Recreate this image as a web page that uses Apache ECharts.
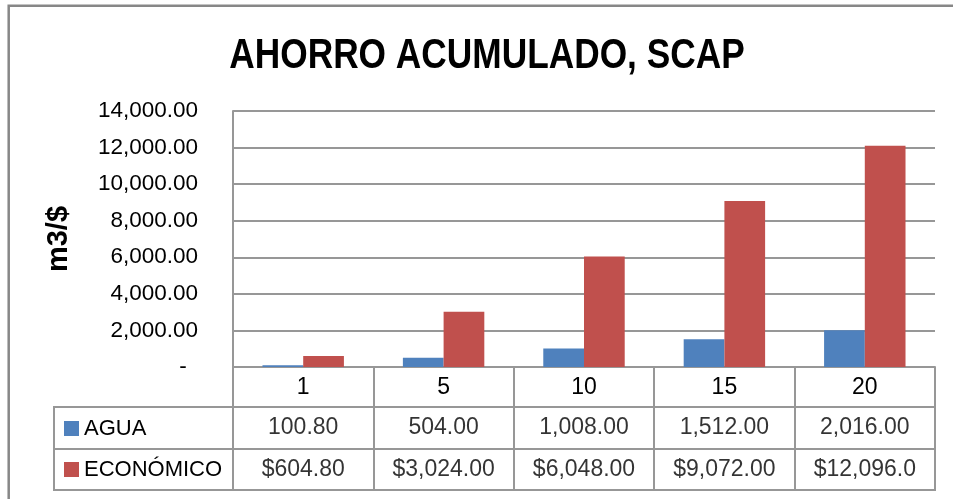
<!DOCTYPE html>
<html>
<head>
<meta charset="utf-8">
<script src="https://cdn.jsdelivr.net/npm/echarts@6/dist/echarts.min.js"></script>
<style>
html, body { margin: 0; padding: 0; background: #fff; }
#chart { width: 953px; height: 499px; }
</style>
</head>
<body>
<div id="chart"></div>
<script>
// Years after installation (categories) and accumulated savings
const years = ['1', '5', '10', '15', '20'];
const agua = [100.80, 504.00, 1008.00, 1512.00, 2016.00];          // m3
const economico = [604.80, 3024.00, 6048.00, 9072.00, 12096.00];   // $
const seriesNames = ['AGUA', 'ECONÓMICO'];
const chartTitle = 'AHORRO ACUMULADO, SCAP';
const yMin = 0, yMax = 14000, yStep = 2000;

const BLUE = '#4F81BD';
const RED = '#C0504D';
const LINE = '#979797';
const FONT = '"Liberation Sans", Arial, sans-serif';

const fmt = v => v.toLocaleString('en-US', { minimumFractionDigits: 2, maximumFractionDigits: 2 });
const money = v => '$' + fmt(v);

const chart = echarts.init(document.getElementById('chart'), null, { renderer: 'canvas' });

// One row of the data table: a text cell centred in every category band
const tableCell = (name, values, gridIdx, formatter) => ({
  name: name + ' (tabla)',
  type: 'scatter',
  xAxisIndex: gridIdx,
  yAxisIndex: gridIdx,
  silent: true,
  symbolSize: 1,
  itemStyle: { color: 'rgba(0,0,0,0)' },
  data: values.map((v, i) => [i, 0.5]),
  label: {
    show: true,
    position: 'inside',
    color: '#000',
    fontFamily: FONT,
    fontSize: 23,
    width: 108,
    overflow: 'truncate',
    ellipsis: '',
    formatter: p => formatter(values[p.dataIndex])
  }
});

const tableAxisX = gridIndex => ({
  type: 'category', gridIndex, data: years, boundaryGap: true,
  axisLine: { show: false }, axisTick: { show: false }, axisLabel: { show: false },
  splitLine: { show: true, interval: 0, lineStyle: { color: LINE, width: 2 } }
});
const hiddenY = gridIndex => ({ type: 'value', gridIndex, min: 0, max: 1, show: false });
const hiddenX = gridIndex => ({ type: 'value', gridIndex, min: 0, max: 1, show: false });

chart.setOption({
  animation: false,
  backgroundColor: '#fff',
  graphic: [
    {
      // chart frame
      type: 'rect',
      silent: true,
      z: -10,
      shape: { x: 8.7, y: 5.7, width: 2000, height: 2000 },
      style: { fill: 'none', stroke: '#878787', lineWidth: 2.5 }
    },
    {
      // condensed bold title
      type: 'text',
      silent: true,
      x: 487,
      y: 56,
      scaleX: 0.84,
      style: {
        text: chartTitle,
        fill: '#000',
        font: 'bold 42px "Liberation Sans", Arial, sans-serif',
        textAlign: 'center',
        textVerticalAlign: 'middle'
      }
    }
  ],
  legend: {
    data: seriesNames,
    orient: 'vertical',
    left: 64,
    top: 415.5,
    padding: 0,
    icon: 'rect',
    itemWidth: 15,
    itemHeight: 15,
    itemGap: 15,
    itemTextGap: 6,
    textStyle: { fontFamily: FONT, fontSize: 22, color: '#000', lineHeight: 26 },
    selectedMode: false
  },
  grid: [
    { left: 233, right: 18, top: 111, bottom: 132, containLabel: false },
    { left: 233, right: 18, top: 407, height: 42, show: true, borderColor: LINE, borderWidth: 2 },
    { left: 233, right: 18, top: 449, height: 41, show: true, borderColor: LINE, borderWidth: 2 },
    { left: 54, width: 179, top: 407, height: 42, show: true, borderColor: LINE, borderWidth: 2 },
    { left: 54, width: 179, top: 449, height: 41, show: true, borderColor: LINE, borderWidth: 2 }
  ],
  xAxis: [
    {
      type: 'category', gridIndex: 0, data: years, boundaryGap: true,
      axisLine: { show: true, lineStyle: { color: LINE, width: 2 } },
      axisTick: { show: true, interval: 0, length: 40, lineStyle: { color: LINE, width: 2 } },
      axisLabel: { interval: 0, margin: 9, color: '#000', fontFamily: FONT, fontSize: 23 },
      splitLine: { show: false }
    },
    tableAxisX(1),
    tableAxisX(2),
    hiddenX(3),
    hiddenX(4)
  ],
  yAxis: [
    {
      type: 'value', gridIndex: 0, min: yMin, max: yMax, interval: yStep,
      name: 'm3/$',
      nameLocation: 'middle',
      nameRotate: 90,
      nameGap: 160,
      nameTextStyle: { fontFamily: FONT, fontWeight: 'bold', fontSize: 29, color: '#000' },
      axisLine: { show: true, lineStyle: { color: LINE, width: 2 } },
      axisTick: { show: false },
      axisLabel: {
        margin: 35, color: '#000', fontFamily: FONT, fontSize: 22.5,
        formatter: v => (v === 0 ? '-\u2002' : fmt(v))
      },
      splitLine: { show: true, lineStyle: { color: LINE, width: 2 } }
    },
    hiddenY(1),
    hiddenY(2),
    hiddenY(3),
    hiddenY(4)
  ],
  series: [
    {
      name: seriesNames[0], type: 'bar', xAxisIndex: 0, yAxisIndex: 0,
      data: agua, itemStyle: { color: BLUE },
      barGap: '0%', barCategoryGap: '42%'
    },
    {
      name: seriesNames[1], type: 'bar', xAxisIndex: 0, yAxisIndex: 0,
      data: economico, itemStyle: { color: RED },
      barGap: '0%', barCategoryGap: '42%'
    },
    tableCell(seriesNames[0], agua, 1, fmt),
    tableCell(seriesNames[1], economico, 2, money)
  ]
});
</script>
</body>
</html>
